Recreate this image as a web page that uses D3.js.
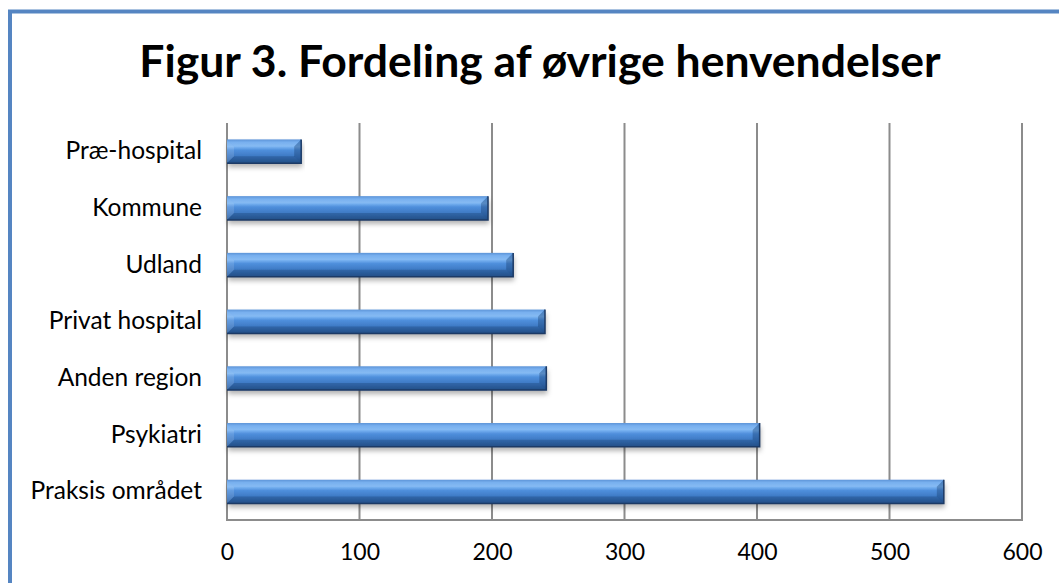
<!DOCTYPE html>
<html>
<head>
<meta charset="utf-8">
<script src="https://cdn.jsdelivr.net/npm/d3@7"></script>
<style>
  html, body { margin: 0; padding: 0; background: #ffffff; }
  svg { display: block; }
</style>
</head>
<body>
<svg id="chart" width="1059" height="583"></svg>
<script>
// Chart content
const chartTitle = "Figur 3. Fordeling af øvrige henvendelser";
const categories = ["Præ-hospital", "Kommune", "Udland", "Privat hospital", "Anden region", "Psykiatri", "Praksis området"];
const values = [56, 197, 216, 240, 241, 402, 541];
const tickValues = [0, 100, 200, 300, 400, 500, 600];

const W = 1059, H = 583;
const plot = { left: 227, right: 1022, top: 123, bottom: 520 };
const fontFamily = "Lato, 'Open Sans', 'DejaVu Sans', sans-serif";

const svg = d3.select("#chart");
const defs = svg.append("defs");

// Frame around the chart
svg.append("rect")
  .attr("x", 10).attr("y", 11.5)
  .attr("width", W + 20).attr("height", H + 20)
  .attr("fill", "#ffffff")
  .attr("stroke", "#5585c2").attr("stroke-width", 4);

// Bar gradient: glossy vertical shading
const grad = defs.append("linearGradient")
  .attr("id", "barGrad").attr("x1", 0).attr("y1", 0).attr("x2", 0).attr("y2", 1);
[
  [0, "#4a88d4"], [0.12, "#6aa8ee"], [0.3, "#7ab4f2"], [0.45, "#4f8fdc"],
  [0.75, "#3b76c0"], [1, "#2a5b98"]
].forEach(([o, c]) => grad.append("stop").attr("offset", o).attr("stop-color", c));

const shadow = defs.append("filter").attr("id", "barShadow")
  .attr("x", "-5%").attr("y", "-30%").attr("width", "110%").attr("height", "180%");
shadow.append("feDropShadow")
  .attr("dx", 1).attr("dy", 4).attr("stdDeviation", 2.5)
  .attr("flood-color", "#000").attr("flood-opacity", 0.3);

// Scales
const x = d3.scaleLinear().domain([0, 600]).range([plot.left, plot.right]);
const y = d3.scaleBand().domain(categories).range([plot.top, plot.bottom])
  .paddingInner(0.58).paddingOuter(0.29);

// Title
svg.append("text")
  .attr("x", 540).attr("y", 77)
  .attr("text-anchor", "middle")
  .attr("font-family", fontFamily)
  .attr("font-weight", 700)
  .attr("font-size", 44.5)
  .attr("fill", "#000")
  .text(chartTitle);

// Vertical gridlines
svg.append("g").selectAll("line")
  .data(tickValues)
  .join("line")
  .attr("x1", d => x(d)).attr("x2", d => x(d))
  .attr("y1", plot.top).attr("y2", plot.bottom)
  .attr("stroke", "#8c8c8c").attr("stroke-width", 2);

// Bottom axis line
svg.append("line")
  .attr("x1", plot.left - 1).attr("x2", plot.right + 1)
  .attr("y1", plot.bottom).attr("y2", plot.bottom)
  .attr("stroke", "#8c8c8c").attr("stroke-width", 2);

// X axis tick labels
const xAxis = svg.append("g")
  .attr("transform", `translate(0,${plot.bottom})`)
  .call(d3.axisBottom(x).tickValues(tickValues).tickSize(0).tickPadding(24));
xAxis.select(".domain").remove();
xAxis.selectAll("text")
  .attr("font-family", fontFamily).attr("font-size", 23).attr("fill", "#000");

// Y axis category labels
const yAxis = svg.append("g")
  .attr("transform", `translate(${plot.left},0)`)
  .call(d3.axisLeft(y).tickSize(0).tickPadding(25));
yAxis.select(".domain").remove();
yAxis.selectAll("text")
  .attr("font-family", fontFamily).attr("font-size", 24.5).attr("fill", "#000");

// Bars with bevelled ends
const bev = 7;
const bars = svg.append("g").selectAll("g.bar")
  .data(categories.map((c, i) => ({ cat: c, val: values[i] })))
  .join("g").attr("class", "bar");

bars.append("rect")
  .attr("x", x(0)).attr("y", d => y(d.cat))
  .attr("width", d => x(d.val) - x(0)).attr("height", y.bandwidth())
  .attr("fill", "url(#barGrad)")
  .attr("filter", "url(#barShadow)");

// left bevel (lighter)
bars.append("path")
  .attr("d", d => {
    const x0 = x(0), y0 = y(d.cat), h = y.bandwidth();
    return `M${x0},${y0}L${x0 + bev},${y0 + bev}L${x0 + bev},${y0 + h - bev}L${x0},${y0 + h}Z`;
  })
  .attr("fill", "#ffffff").attr("fill-opacity", 0.12);

// top bevel highlight
bars.append("path")
  .attr("d", d => {
    const x0 = x(0), x1 = x(d.val), y0 = y(d.cat);
    return `M${x0},${y0}L${x1},${y0}L${x1 - bev},${y0 + bev}L${x0 + bev},${y0 + bev}Z`;
  })
  .attr("fill", "#ffffff").attr("fill-opacity", 0.1);

// bottom bevel (darker)
bars.append("path")
  .attr("d", d => {
    const x0 = x(0), x1 = x(d.val), y1 = y(d.cat) + y.bandwidth();
    return `M${x0},${y1}L${x1},${y1}L${x1 - bev},${y1 - bev}L${x0 + bev},${y1 - bev}Z`;
  })
  .attr("fill", "#0a2a55").attr("fill-opacity", 0.25);

// right bevel (darkest)
bars.append("path")
  .attr("d", d => {
    const x1 = x(d.val), y0 = y(d.cat), h = y.bandwidth();
    return `M${x1},${y0}L${x1 - bev},${y0 + bev}L${x1 - bev},${y0 + h - bev}L${x1},${y0 + h}Z`;
  })
  .attr("fill", "#0a2a55").attr("fill-opacity", 0.3);

// dark outline along right and bottom edges
bars.append("path")
  .attr("d", d => {
    const x0 = x(0), x1 = x(d.val), y0 = y(d.cat), h = y.bandwidth();
    return `M${x1},${y0}L${x1},${y0 + h}L${x0},${y0 + h}`;
  })
  .attr("fill", "none").attr("stroke", "#1c3a66").attr("stroke-width", 1.5);
</script>
</body>
</html>
